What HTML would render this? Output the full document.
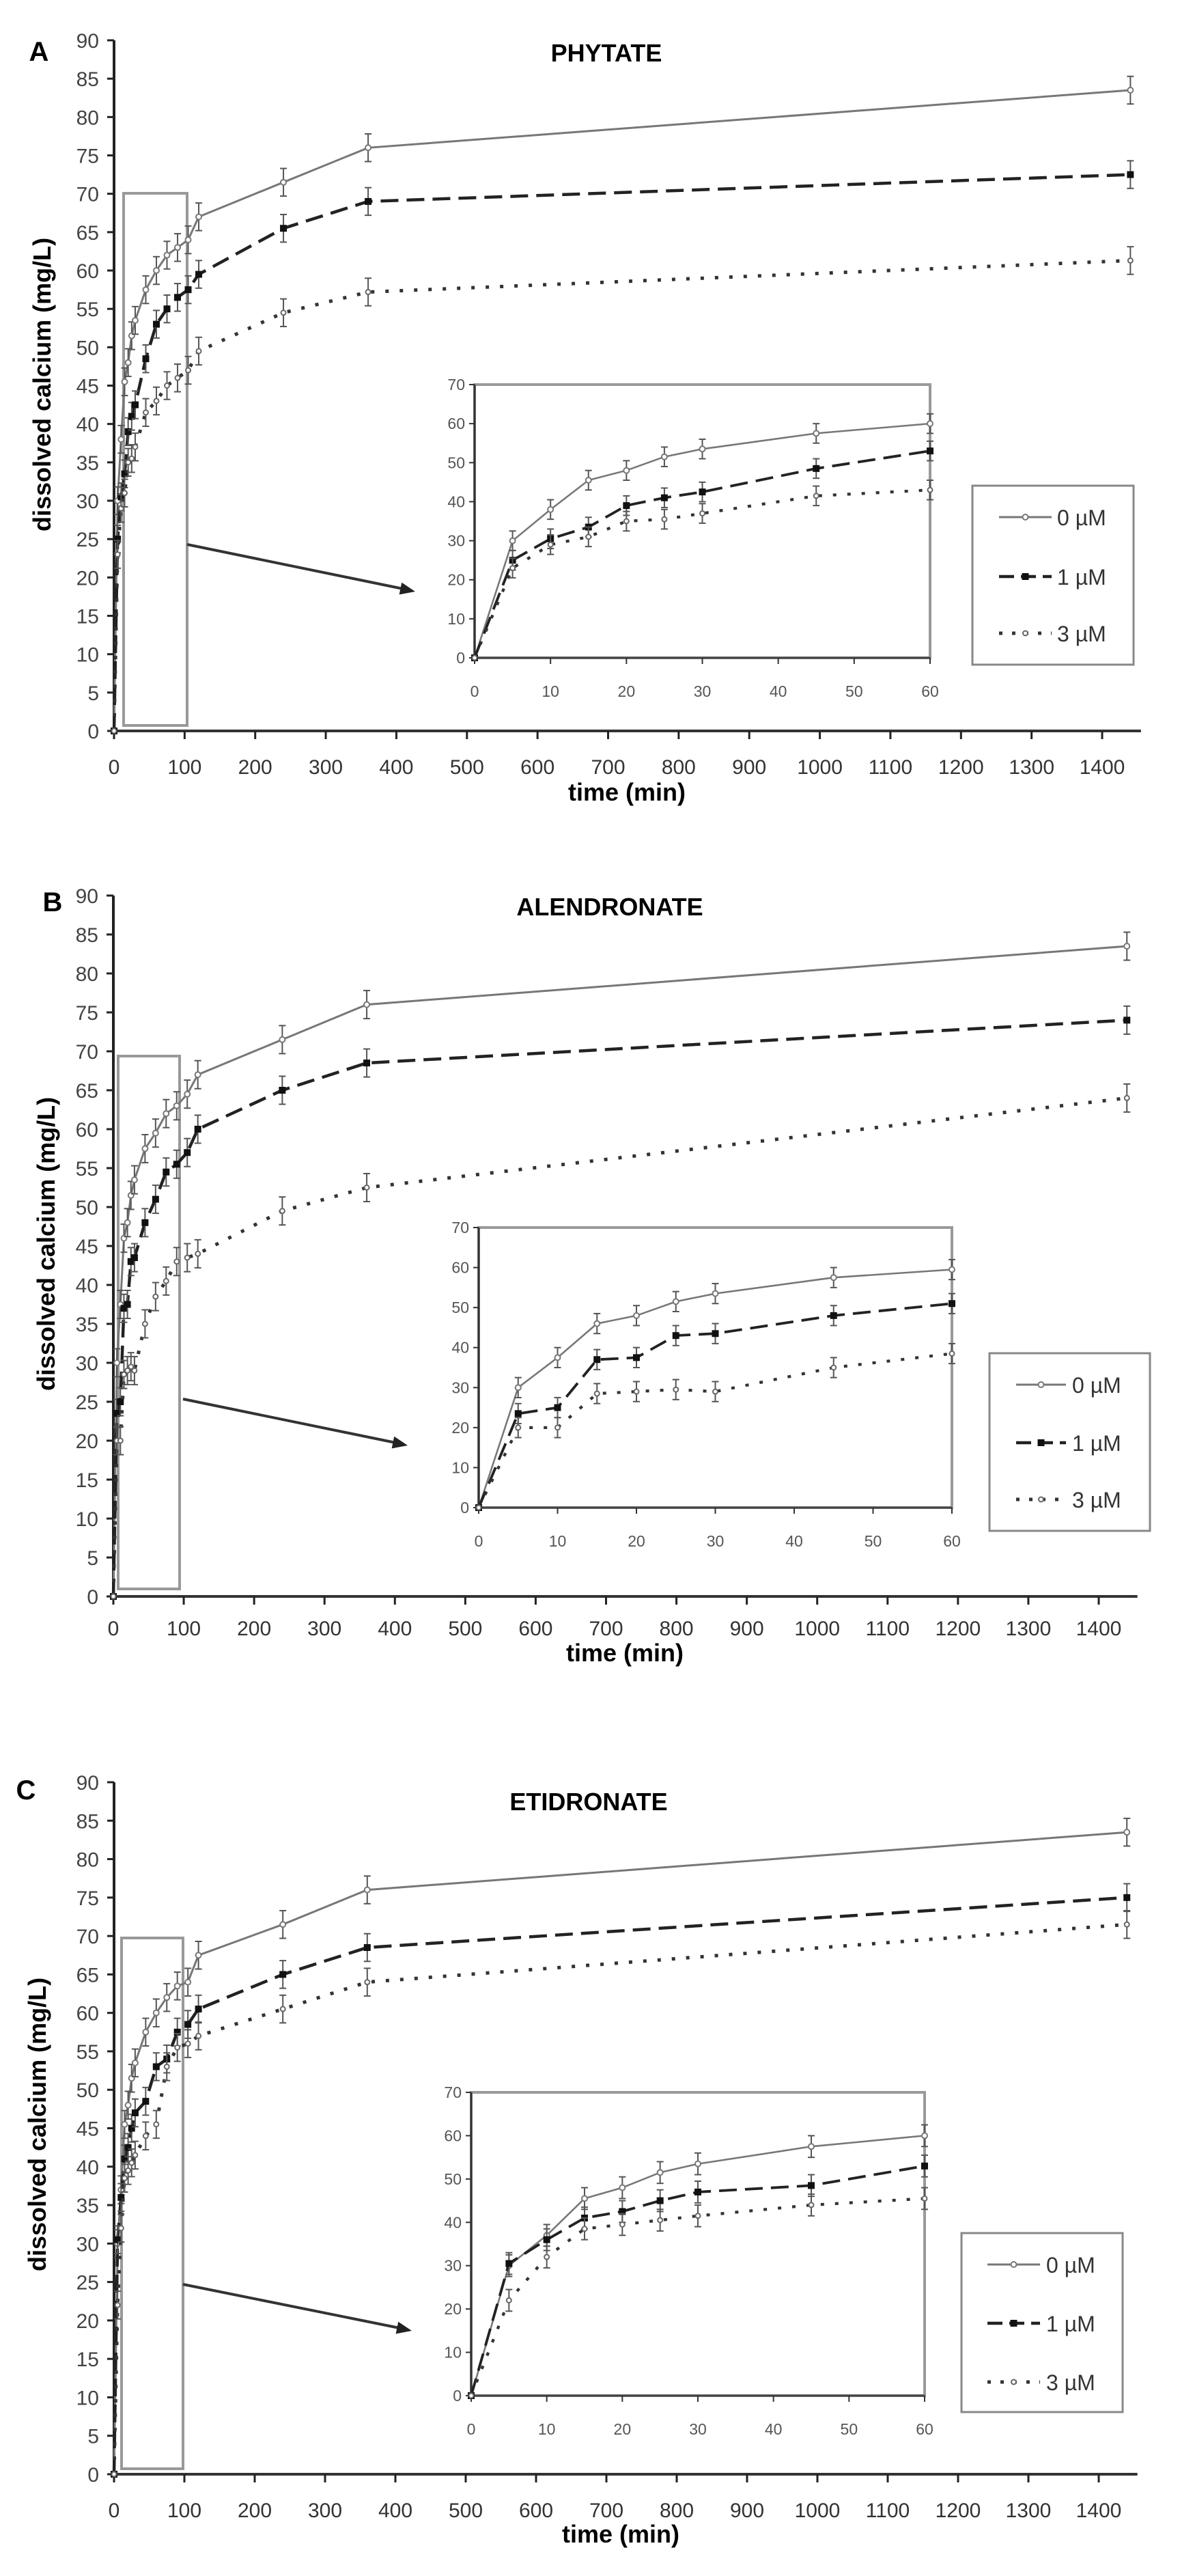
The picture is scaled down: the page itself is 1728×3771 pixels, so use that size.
<!DOCTYPE html>
<html><head><meta charset="utf-8">
<style>
html,body{margin:0;padding:0;background:#fff;}
svg{display:block;}
text{font-family:"Liberation Sans",Arial,sans-serif;}
</style></head>
<body>
<svg id="s" xmlns="http://www.w3.org/2000/svg" width="1728" height="3771" viewBox="0 0 1728 3771"></svg>
<script>
const S=document.getElementById('s');
function el(t,a,txt){const e=document.createElementNS('http://www.w3.org/2000/svg',t);for(const k in a)e.setAttribute(k,a[k]);if(txt!==undefined)e.textContent=txt;S.appendChild(e);return e;}
const P=[
{letter:'A',lx:57,ly:75,title:'PHYTATE',tx:888,ty:78,x0:167,x1400:1614,y0:1070,y90:59,
 xl:1122,tl:1172,tlx:918,ylx:62,yly:563,
 rect:[181,283,274,1062],arrow:[274,797,608,866],
 ins:{x0:695,x60:1362,y0:963,y70:563,xl:1012},
 leg:[1424,711,1660,973,[757,844,927],1463,1540,1548],
 d0:[[0,0],[5,30],[10,38],[15,45.5],[20,48],[25,51.5],[30,53.5],[45,57.5],[60,60],[75,62],[90,63],[105,64],[120,67],[240,71.5],[360,76],[1440,83.5]],
 d1:[[0,0],[5,25],[10,30.5],[15,33.5],[20,39],[25,41],[30,42.5],[45,48.5],[60,53],[75,55],[90,56.5],[105,57.5],[120,59.5],[240,65.5],[360,69],[1440,72.5]],
 d3:[[0,0],[5,23],[10,29],[15,31],[20,35],[25,35.5],[30,37],[45,41.5],[60,43],[75,45],[90,46],[105,47],[120,49.5],[240,54.5],[360,57.2],[1440,61.3]]},
{letter:'B',lx:77,ly:1320,title:'ALENDRONATE',tx:893,ty:1328,x0:166,x1400:1609,y0:2337,y90:1311,
 xl:2383,tl:2432,tlx:915,ylx:68,yly:1821,
 rect:[173,1546,263,2326],arrow:[268,2048,597,2116],
 ins:{x0:701,x60:1394,y0:2207,y70:1797,xl:2256},
 leg:[1449,1981,1684,2241,[2027,2112,2195],1488,1561,1570],
 d0:[[0,0],[5,30],[10,37.5],[15,46],[20,48],[25,51.5],[30,53.5],[45,57.5],[60,59.5],[75,62],[90,63],[105,64.5],[120,67],[240,71.5],[360,76],[1440,83.5]],
 d1:[[0,0],[5,23.5],[10,25],[15,37],[20,37.5],[25,43],[30,43.5],[45,48],[60,51],[75,54.5],[90,55.5],[105,57],[120,60],[240,65],[360,68.5],[1440,74]],
 d3:[[0,0],[5,20],[10,20],[15,28.5],[20,29],[25,29.5],[30,29],[45,35],[60,38.5],[75,40.5],[90,43],[105,43.5],[120,44],[240,49.5],[360,52.5],[1440,64]]},
{letter:'C',lx:38,ly:2620,title:'ETIDRONATE',tx:862,ty:2638,x0:167,x1400:1609,y0:3622,y90:2609,
 xl:3674,tl:3722,tlx:909,ylx:55,yly:3110,
 rect:[178,2837,268,3614],arrow:[268,3344,603,3412],
 ins:{x0:690,x60:1354,y0:3507,y70:3063,xl:3556},
 leg:[1408,3269,1644,3531,[3315,3401,3487],1446,1523,1532],
 d0:[[0,0],[5,30],[10,37],[15,45.5],[20,48],[25,51.5],[30,53.5],[45,57.5],[60,60],[75,62],[90,63.5],[105,64],[120,67.5],[240,71.5],[360,76],[1440,83.5]],
 d1:[[0,0],[5,30.5],[10,36],[15,41],[20,42.5],[25,45],[30,47],[45,48.5],[60,53],[75,54],[90,57.5],[105,58.5],[120,60.5],[240,65],[360,68.5],[1440,75]],
 d3:[[0,0],[5,22],[10,32],[15,38.5],[20,39.5],[25,40.5],[30,41.5],[45,44],[60,45.5],[75,53],[90,55.5],[105,56],[120,57],[240,60.5],[360,64],[1440,71.5]]}
];
const styles=[
 {k:'d0',stroke:'#777',w:3,dash:'',mk:'open'},
 {k:'d1',stroke:'#222',w:4.5,dash:'26 12',mk:'fill'},
 {k:'d3',stroke:'#333',w:5,dash:'5 16',mk:'small'}];
function series(pts,X,Y,st,err){
  el('polyline',{points:pts.map(p=>X(p[0]).toFixed(1)+','+Y(p[1]).toFixed(1)).join(' '),fill:'none',stroke:st.stroke,'stroke-width':st.w,'stroke-dasharray':st.dash});
  pts.forEach((p,i)=>{const x=X(p[0]),y=Y(p[1]);
    if(i>0){const e=(Y(0)-Y(err));el('line',{x1:x,y1:y-e,x2:x,y2:y+e,stroke:'#555','stroke-width':2});
      el('line',{x1:x-5,y1:y-e,x2:x+5,y2:y-e,stroke:'#555','stroke-width':2});el('line',{x1:x-5,y1:y+e,x2:x+5,y2:y+e,stroke:'#555','stroke-width':2});}
    if(st.mk=='open')el('circle',{cx:x,cy:y,r:4,fill:'#fff',stroke:'#777','stroke-width':2});
    else if(st.mk=='fill')el('rect',{x:x-5,y:y-5,width:10,height:10,fill:'#111'});
    else el('circle',{cx:x,cy:y,r:3.5,fill:'#fff',stroke:'#666','stroke-width':2});
  });
}
P.forEach(p=>{
  const X=t=>p.x0+(p.x1400-p.x0)*t/1400, Y=v=>p.y0+(p.y90-p.y0)*v/90;
  el('text',{x:p.lx,y:p.ly+14,'font-size':40,'font-weight':'bold','text-anchor':'middle'},p.letter);
  el('text',{x:p.tx,y:p.ty+12,'font-size':36,'font-weight':'bold','text-anchor':'middle'},p.title);
  el('line',{x1:p.x0,y1:p.y90,x2:p.x0,y2:p.y0,stroke:'#222','stroke-width':4});
  el('line',{x1:p.x0,y1:p.y0,x2:X(1455),y2:p.y0,stroke:'#333','stroke-width':4});
  for(let v=0;v<=90;v+=5){const y=Y(v);el('line',{x1:p.x0-10,y1:y,x2:p.x0,y2:y,stroke:'#222','stroke-width':3});
    el('text',{x:p.x0-22,y:y+11,'font-size':30,'text-anchor':'end',fill:'#444'},v);}
  for(let t=0;t<=1400;t+=100){const x=X(t);el('line',{x1:x,y1:p.y0,x2:x,y2:p.y0+12,stroke:'#222','stroke-width':3});
    el('text',{x:x,y:p.xl+11,'font-size':30,'text-anchor':'middle',fill:'#333'},t);}
  el('text',{x:p.tlx,y:p.tl,'font-size':36,'font-weight':'bold','text-anchor':'middle'},'time (min)');
  el('text',{x:0,y:0,'font-size':36,'font-weight':'bold','text-anchor':'middle',transform:`translate(${p.ylx+12},${p.yly}) rotate(-90)`},'dissolved calcium (mg/L)');
  const r=p.rect;el('rect',{x:r[0],y:r[1],width:r[2]-r[0],height:r[3]-r[1],fill:'none',stroke:'#999','stroke-width':4});
  styles.forEach(st=>series(p[st.k],X,Y,st,1.8));
  const a=p.arrow;el('line',{x1:a[0],y1:a[1],x2:a[2]-8,y2:a[3]-2,stroke:'#333','stroke-width':4});
  const ang=Math.atan2(a[3]-a[1],a[2]-a[0]);const hx=a[2],hy=a[3];
  el('polygon',{points:`${hx},${hy} ${hx-22*Math.cos(ang)+9*Math.sin(ang)},${hy-22*Math.sin(ang)-9*Math.cos(ang)} ${hx-22*Math.cos(ang)-9*Math.sin(ang)},${hy-22*Math.sin(ang)+9*Math.cos(ang)}`,fill:'#222'});
  const I=p.ins;const IX=t=>I.x0+(I.x60-I.x0)*t/60, IY=v=>I.y0+(I.y70-I.y0)*v/70;
  el('rect',{x:I.x0,y:I.y70,width:I.x60-I.x0,height:I.y0-I.y70,fill:'#fff',stroke:'#999','stroke-width':4});
  el('line',{x1:I.x0,y1:I.y70,x2:I.x0,y2:I.y0,stroke:'#333','stroke-width':3});
  el('line',{x1:I.x0,y1:I.y0,x2:I.x60,y2:I.y0,stroke:'#444','stroke-width':3});
  for(let v=0;v<=70;v+=10){const y=IY(v);el('line',{x1:I.x0-8,y1:y,x2:I.x0,y2:y,stroke:'#333','stroke-width':2});
    el('text',{x:I.x0-14,y:y+8,'font-size':23,'text-anchor':'end',fill:'#555'},v);}
  for(let t=0;t<=60;t+=10){const x=IX(t);el('line',{x1:x,y1:I.y0,x2:x,y2:I.y0+9,stroke:'#333','stroke-width':2});
    el('text',{x:x,y:I.xl+8,'font-size':23,'text-anchor':'middle',fill:'#555'},t);}
  styles.forEach(st=>series(p[st.k].filter(q=>q[0]<=60),IX,IY,{...st,w:st.w*0.85},2.5));
  const L=p.leg;el('rect',{x:L[0],y:L[1],width:L[2]-L[0],height:L[3]-L[1],fill:'#fff',stroke:'#888','stroke-width':3});
  ['0 µM','1 µM','3 µM'].forEach((s,i)=>{const y=L[4][i],st=styles[i];
    el('line',{x1:L[5],y1:y,x2:L[6],y2:y,stroke:st.stroke,'stroke-width':st.w,'stroke-dasharray':i==1?'22 10':(i==2?'5 14':'')});
    const mx=(L[5]+L[6])/2;
    if(i==0)el('circle',{cx:mx,cy:y,r:4,fill:'#fff',stroke:'#777','stroke-width':2});
    else if(i==1)el('rect',{x:mx-5,y:y-5,width:10,height:10,fill:'#111'});
    else el('circle',{cx:mx,cy:y,r:3.5,fill:'#fff',stroke:'#666','stroke-width':2});
    el('text',{x:L[7],y:y+12,'font-size':32,fill:'#333'},s);});
});
</script>
</body></html>
